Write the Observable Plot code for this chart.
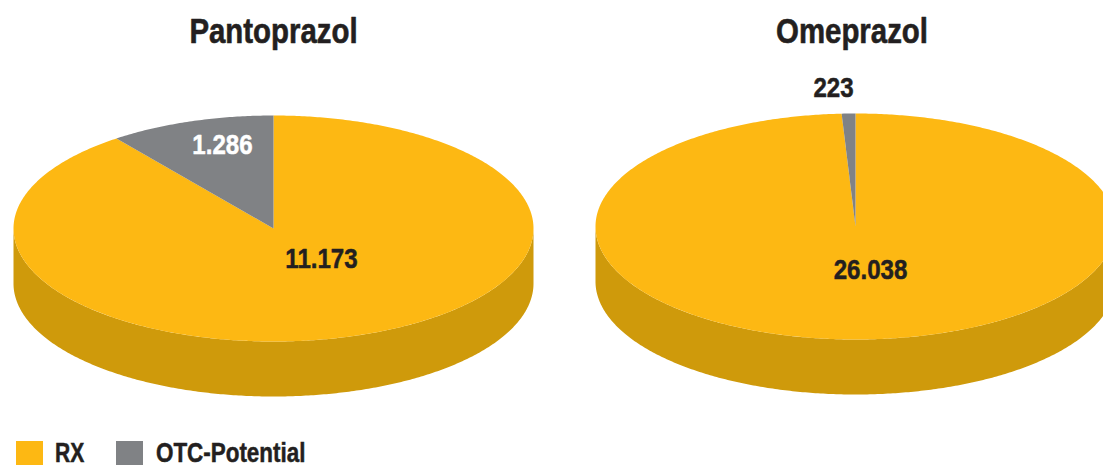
<!DOCTYPE html>
<html>
<head>
<meta charset="utf-8">
<script src="https://cdn.jsdelivr.net/npm/d3@7"></script>
<script src="https://cdn.jsdelivr.net/npm/@observablehq/plot@0.6"></script>
<style>
  html, body { margin: 0; padding: 0; background: #fff; overflow: hidden; width: 1103px; height: 465px; }
  #chart svg { display: block; }
  #legend { position: relative; height: 27px; color: #231F20;
    font: bold 27px "Liberation Sans", sans-serif; }
  #legend .sw { position: absolute; top: 3px; width: 27px; height: 24px; }
  #legend .lb { position: absolute; top: 3px; line-height: 24px; white-space: nowrap;
    transform-origin: 0 50%; -webkit-text-stroke: 0.5px #231F20; }
</style>
</head>
<body>
<div id="chart"></div>
<div id="legend"></div>
<script>
// Data
const drugs = ["Pantoprazol", "Omeprazol"];
const rxValues = [11173, 26038];
const otcValues = [1286, 223];
const rxLabels = ["11.173", "26.038"];
const otcLabels = ["1.286", "223"];
const seriesNames = ["RX", "OTC-Potential"];

// Layout and style
const W = 1103, H = 438;
const centerX = [273, 855], centerY = [228, 226];
const radiusX = 260, radiusY = 113, depth = 55;
const colors = { "RX": "#FDB813", "OTC-Potential": "#808285", "side": "#CF9A0B" };
const titleX = [273, 851.5], titleY = 31;
const rxLabelPos = [[321, 259], [870, 270]];
const otcLabelPos = [[222, 145], [833, 88]];
const otcLabelColor = ["#ffffff", "#231F20"];
const font = '"Liberation Sans", sans-serif';
const titleSquash = 0.84, valueSquash = 0.86;

// Build the slice outlines from the values: angle runs clockwise from 12 o'clock
const pt = (i, a, dz = 0) => ({ x: centerX[i] + radiusX * Math.sin(a), y: centerY[i] - radiusY * Math.cos(a) + dz });
const arc = (i, a0, a1, dz = 0) => {
  const n = Math.max(2, Math.ceil(Math.abs(a1 - a0) / 0.01));
  return d3.range(n + 1).map(k => pt(i, a0 + (a1 - a0) * k / n, dz));
};
const outlines = [];
drugs.forEach((drug, i) => {
  const total = rxValues[i] + otcValues[i];
  const split = 2 * Math.PI * (rxValues[i] / total);
  const tag = (pts, key, series) => pts.forEach(p => outlines.push({ ...p, id: drug + key, series }));
  // rim, lower half of the ellipse extruded downwards
  tag([...arc(i, Math.PI / 2, 3 * Math.PI / 2), ...arc(i, 3 * Math.PI / 2, Math.PI / 2, depth)], "-side", "side");
  // RX slice starts at 12 o'clock, OTC slice closes the circle
  const c = { x: centerX[i], y: centerY[i] };
  tag([c, ...arc(i, 0, split)], "-rx", "RX");
  tag([c, ...arc(i, split, 2 * Math.PI)], "-otc", "OTC-Potential");
});

const titleRows = drugs.map((drug, i) => ({ drug, x: titleX[i], y: titleY }));
const valueRows = drugs.flatMap((drug, i) => [
  { text: rxLabels[i], x: rxLabelPos[i][0], y: rxLabelPos[i][1], tint: "#231F20" },
  { text: otcLabels[i], x: otcLabelPos[i][0], y: otcLabelPos[i][1], tint: otcLabelColor[i] }
]);

const plot = Plot.plot({
  width: W, height: H,
  margin: 0,
  x: { domain: [0, W], range: [0, W], axis: null },
  y: { domain: [0, H], range: [0, H], axis: null },
  color: { domain: Object.keys(colors), range: Object.values(colors) },
  style: { fontFamily: font, background: "#fff" },
  marks: [
    Plot.line(outlines, { x: "x", y: "y", z: "id", fill: "series", stroke: null, curve: "linear" }),
    Plot.text(titleRows, { x: "x", y: "y", text: "drug", fontSize: 35, fontWeight: "bold", fill: "#231F20", stroke: "#231F20", strokeWidth: 0.6, textAnchor: "middle", className: "title-text" }),
    Plot.text(valueRows, { x: "x", y: "y", text: "text", fontSize: 28, fontWeight: "bold", fill: d => d.tint, stroke: d => d.tint, strokeWidth: 0.5, textAnchor: "middle", className: "value-text" })
  ]
});
document.getElementById("chart").append(plot);

// No condensed face is installed, so the glyphs are narrowed to the reference's widths
const squash = (sel, ratio) => plot.querySelectorAll(sel).forEach(t => {
  t.setAttribute("textLength", (t.getComputedTextLength() * ratio).toFixed(1));
  t.setAttribute("lengthAdjust", "spacingAndGlyphs");
});
squash(".title-text text", titleSquash);
squash(".value-text text", valueSquash);

// Legend
const legend = document.getElementById("legend");
const legendSwatchX = [16, 116], legendLabelX = [55, 156], legendSquash = [0.78, 0.83];
seriesNames.forEach((name, i) => {
  const sw = document.createElement("div");
  sw.className = "sw";
  sw.style.background = colors[name];
  sw.style.left = legendSwatchX[i] + "px";
  const lb = document.createElement("div");
  lb.className = "lb";
  lb.textContent = name;
  lb.style.left = legendLabelX[i] + "px";
  lb.style.transform = `scaleX(${legendSquash[i]})`;
  legend.append(sw, lb);
});
</script>
</body>
</html>
